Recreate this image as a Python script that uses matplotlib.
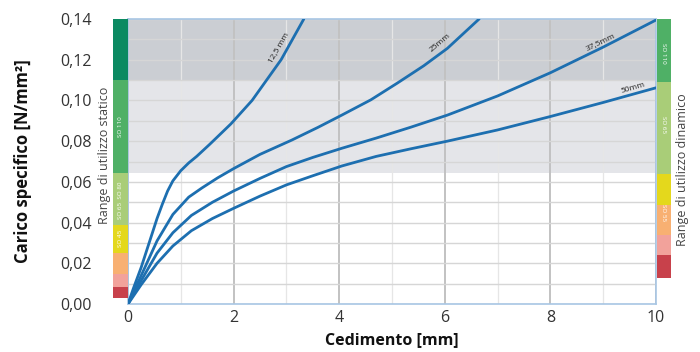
import matplotlib; matplotlib.use("Agg")
import matplotlib.pyplot as plt
from matplotlib.ticker import FuncFormatter, MultipleLocator

plt.rcParams["font.family"] = ["Open Sans", "DejaVu Sans"]

# curves (x = Cedimento mm, y = N/mm2)
x_125 = [0, 0.1, 0.25, 0.4, 0.55, 0.65, 0.75, 0.85, 1.0, 1.15, 1.3, 1.55, 1.95, 2.35, 2.9, 3.33]
y_125 = [0, 0.0075, 0.018, 0.030, 0.042, 0.049, 0.0555, 0.0605, 0.0655, 0.0693, 0.0725, 0.0785,
         0.0885, 0.100, 0.120, 0.140]
x_25 = [0, 0.25, 0.55, 0.85, 1.15, 1.4, 1.7, 2.0, 2.5, 3.1, 3.6, 4.05, 4.6, 5.1, 5.6, 6.05, 6.65]
y_25 = [0, 0.014, 0.031, 0.044, 0.0525, 0.057, 0.062, 0.0665, 0.0735, 0.0805, 0.0868, 0.0928, 0.1003,
        0.1085, 0.117, 0.1256, 0.140]
x_375 = [0, 0.25, 0.55, 0.85, 1.2, 1.6, 2.0, 2.5, 3.0, 3.5, 4.05, 4.7, 5.35, 6.05, 7.0, 8.0, 9.0, 10.0]
y_375 = [0, 0.0115, 0.025, 0.035, 0.0435, 0.050, 0.0555, 0.0617, 0.0675, 0.072, 0.0765, 0.0815,
         0.0868, 0.0928, 0.1022, 0.1136, 0.1262, 0.1395]
x_50 = [0, 0.25, 0.55, 0.85, 1.2, 1.6, 2.0, 2.5, 3.0, 3.5, 4.05, 4.7, 5.35, 6.05, 7.0, 8.0, 9.0, 10.0]
y_50 = [0, 0.0095, 0.020, 0.0285, 0.036, 0.042, 0.047, 0.053, 0.0585, 0.063, 0.0678, 0.0725,
        0.0762, 0.080, 0.0855, 0.0921, 0.099, 0.1062]
curve_labels = ["12,5 mm", "25mm", "37,5mm", "50mm"]

# usage range bands (edges in N/mm2)
static_edges = [0.003, 0.0083, 0.0147, 0.025, 0.0388, 0.0644, 0.110, 0.140]
static_cols = ["#c8414b", "#f2a29b", "#f8b072", "#e4d81c", "#a9cd78", "#4fb066", "#0b8a62"]
dyn_edges = [0.013, 0.024, 0.034, 0.0487, 0.064, 0.109, 0.140]
dyn_cols = ["#c8414b", "#f2a29b", "#f8b072", "#e4d81c", "#a9cd78", "#4fb066"]
static_tags = [("SO 45", 0.032), ("SO 65  SO 80", 0.051), ("SO 110", 0.087)]
dyn_tags = [("SO 55", 0.045), ("SO 65", 0.088), ("SO 110", 0.123)]

fig = plt.figure(figsize=(7, 3.52), dpi=100)
ax = fig.add_axes([128/700, 48/352, 528/700, 285/352])
ax.set_xlim(0, 10); ax.set_ylim(0, 0.14)

ax.axhspan(0.11, 0.14, color="#cbced3", zorder=0, lw=0)
ax.axhspan(0.0644, 0.11, color="#e4e5e9", zorder=0, lw=0)

ax.xaxis.set_major_locator(MultipleLocator(2)); ax.xaxis.set_minor_locator(MultipleLocator(1))
ax.yaxis.set_major_locator(MultipleLocator(0.02)); ax.yaxis.set_minor_locator(MultipleLocator(0.01))
ax.set_axisbelow(True)
ax.grid(True, which="major", axis="x", color="#c2c2c2", lw=1.4)
ax.grid(True, which="minor", axis="x", color="#e6e6e6", lw=0.9)
ax.grid(True, which="both", axis="y", color="#d6d6d6", lw=1.0)

for lo, hi, c in zip(static_edges[:-1], static_edges[1:], static_cols):
    ax.bar(-0.145, hi - lo, bottom=lo, width=0.28, color=c, clip_on=False, zorder=3, lw=0)
for lo, hi, c in zip(dyn_edges[:-1], dyn_edges[1:], dyn_cols):
    ax.bar(10.15, hi - lo, bottom=lo, width=0.26, color=c, clip_on=False, zorder=3, lw=0)
for t, yv in static_tags:
    ax.text(-0.145, yv, t, rotation=90, color="white", fontsize=4.5, ha="center", va="center",
            clip_on=False, zorder=4)
for t, yv in dyn_tags:
    ax.text(10.15, yv, t, rotation=270, color="white", fontsize=4.5, ha="center", va="center",
            clip_on=False, zorder=4)

for xs, ys in [(x_125, y_125), (x_25, y_25), (x_375, y_375), (x_50, y_50)]:
    ax.plot(xs, ys, color="#1d6fb0", lw=2.0, solid_joinstyle="round", solid_capstyle="round", zorder=5)

ax.text(2.87, 0.1255, curve_labels[0], rotation=60, fontsize=6, color="#222", ha="center", va="center")
ax.text(5.92, 0.1285, curve_labels[1], rotation=40, fontsize=6, color="#222", ha="center", va="center")
ax.text(8.96, 0.1285, curve_labels[2], rotation=26, fontsize=6, color="#222", ha="center", va="center")
ax.text(9.56, 0.1062, curve_labels[3], rotation=16, fontsize=6, color="#222", ha="center", va="center")

ax.text(-0.45, 0.073, "Range di utilizzo statico", rotation=90, fontsize=9, color="#444",
        ha="center", va="center", clip_on=False)
ax.text(10.5, 0.0658, "Range di utilizzo dinamico", rotation=90, fontsize=9, color="#444",
        ha="center", va="center", clip_on=False)

ax.yaxis.set_major_formatter(FuncFormatter(lambda v, p: f"{v:.2f}".replace(".", ",")))
ax.tick_params(which="both", length=0, labelsize=11.5, colors="#333")
ax.tick_params(axis="y", pad=26)
ax.tick_params(axis="x", pad=4)

for s in ax.spines.values():
    s.set_color("#a8c6e4"); s.set_linewidth(1.2)

ax.set_ylabel("Carico specifico [N/mm²]", fontsize=12, fontweight="bold", color="#111")
ax.yaxis.set_label_coords(-0.182, 0.5)
ax.set_xlabel("Cedimento [mm]", fontsize=11.5, fontweight="bold", color="#111")
ax.xaxis.set_label_coords(0.5, -0.1)

plt.savefig("out.png", dpi=100)
